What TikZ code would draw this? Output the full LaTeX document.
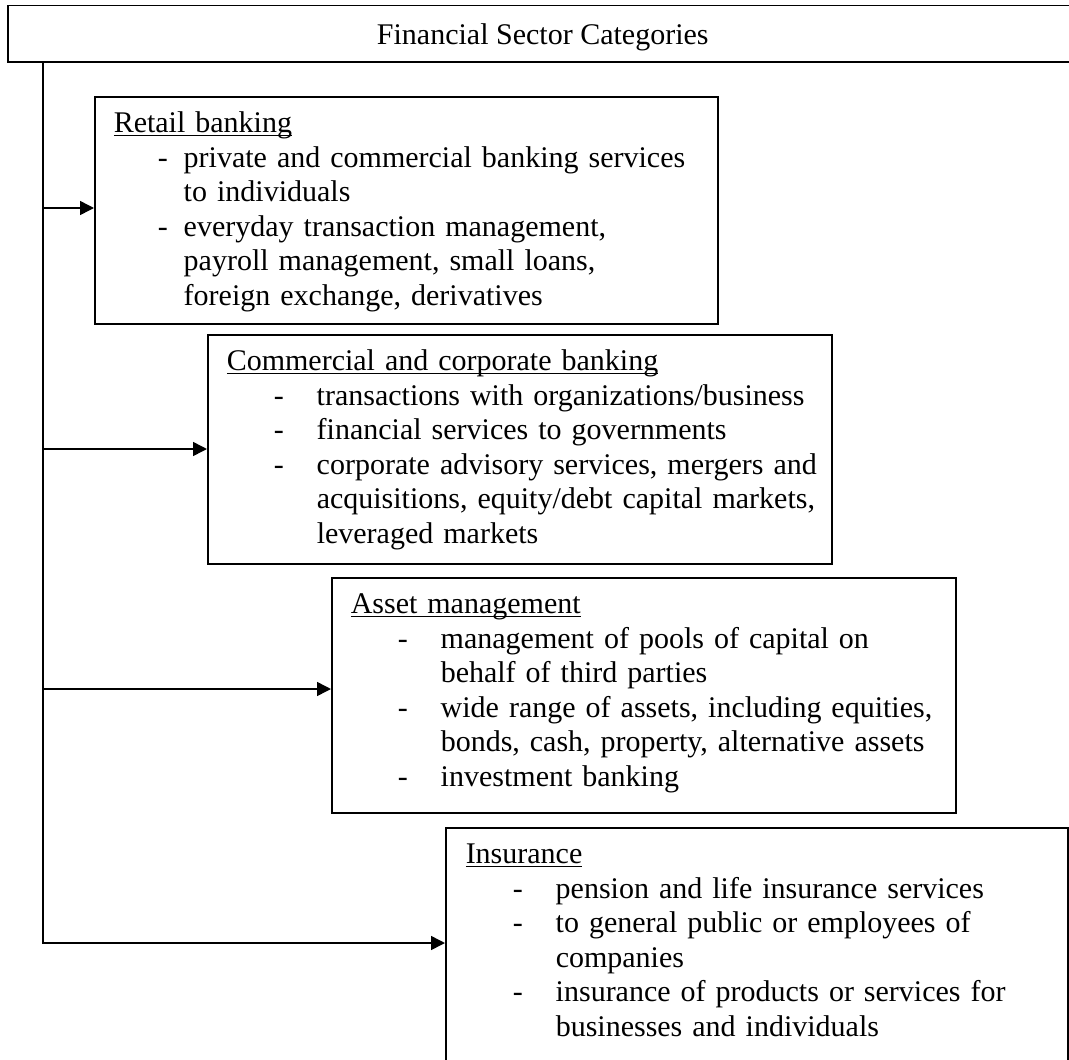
\documentclass[tikz,border=0pt]{standalone}
\usepackage{fontspec}
\setmainfont{Liberation Serif}
\usetikzlibrary{arrows.meta}

% Ueberschrift mit Unterstrich, Spiegelstrich-Zeile, Folgezeile
\newcommand{\ulhead}[1]{\setbox0\hbox{#1}\rlap{\rule[-3.5pt]{\wd0}{1.6pt}}\box0}
\newcommand{\itm}[3]{\hspace*{#1pt}\makebox[#2pt][l]{-}#3}
\newcommand{\cnt}[2]{\hspace*{#1pt}#2}

\begin{document}
\begin{tikzpicture}[x=1pt, y=-1pt, line width=1.5pt, font=\fontsize{30}{34.5}\selectfont]
		\tikzstyle{sectorbox}=[draw, rectangle, anchor=north west, inner sep=0pt]
		\tikzstyle{sectortext}=[anchor=north west, inner sep=0pt, text width=640pt, align=left]
		\tikzstyle{link}=[-{Triangle[length=14pt,width=14pt]}]
		\useasboundingbox (0,0) rectangle (1069,1060);
		
		% Kopfzeile
		\node[sectorbox, minimum width=1070pt, minimum height=56.5pt, text height=21pt, text depth=0pt] (head) at (7,4.5) {Financial Sector Categories};
		
		% Kategorien (Rahmen)
		\node[sectorbox, minimum width=623pt, minimum height=227pt] (retail) at (94,96) {};
		\node[sectorbox, minimum width=624pt, minimum height=229pt] (corporate) at (207,334) {};
		\node[sectorbox, minimum width=624pt, minimum height=235pt] (asset) at (331,577) {};
		\node[sectorbox, minimum width=622pt, minimum height=250pt] (insurance) at (445,827) {};
		
		% Kategorien (Text)
		\node[sectortext] (retailtxt) at (113,107.85) {\strut\ulhead{Retail banking}\\
			\itm{44}{26}{private and commercial banking services}\\
			\cnt{70}{to individuals}\\
			\itm{44}{26}{everyday transaction management,}\\
			\cnt{70}{payroll management, small loans,}\\
			\cnt{70}{foreign exchange, derivatives}};
		\node[sectortext] (corporatetxt) at (226,345.85) {\strut\ulhead{Commercial and corporate banking}\\
			\itm{47}{43}{transactions with organizations/business}\\
			\itm{47}{43}{financial services to governments}\\
			\itm{47}{43}{corporate advisory services, mergers and}\\
			\cnt{90}{acquisitions, equity/debt capital markets,}\\
			\cnt{90}{leveraged markets}};
		\node[sectortext] (assettxt) at (350,588.85) {\strut\ulhead{Asset management}\\
			\itm{47}{43}{management of pools of capital on}\\
			\cnt{90}{behalf of third parties}\\
			\itm{47}{43}{wide range of assets, including equities,}\\
			\cnt{90}{bonds, cash, property, alternative assets}\\
			\itm{47}{43}{investment banking}};
		\node[sectortext] (insurancetxt) at (465,838.85) {\strut\ulhead{Insurance}\\
			\itm{47}{43}{pension and life insurance services}\\
			\itm{47}{43}{to general public or employees of}\\
			\cnt{90}{companies}\\
			\itm{47}{43}{insurance of products or services for}\\
			\cnt{90}{businesses and individuals}};
		
		% Verbindungen
		\coordinate (top) at (43,61);
		\coordinate (r1) at (43,208);
		\coordinate (r2) at (43,449);
		\coordinate (r3) at (43,689);
		\coordinate (r4) at (43,943);
		\draw[link] (top) -- (r4) -- (r4 -| insurance.west);
		\draw[link] (r1) -- (r1 -| retail.west);
		\draw[link] (r2) -- (r2 -| corporate.west);
		\draw[link] (r3) -- (r3 -| asset.west);
		
	\end{tikzpicture}
\end{document}
